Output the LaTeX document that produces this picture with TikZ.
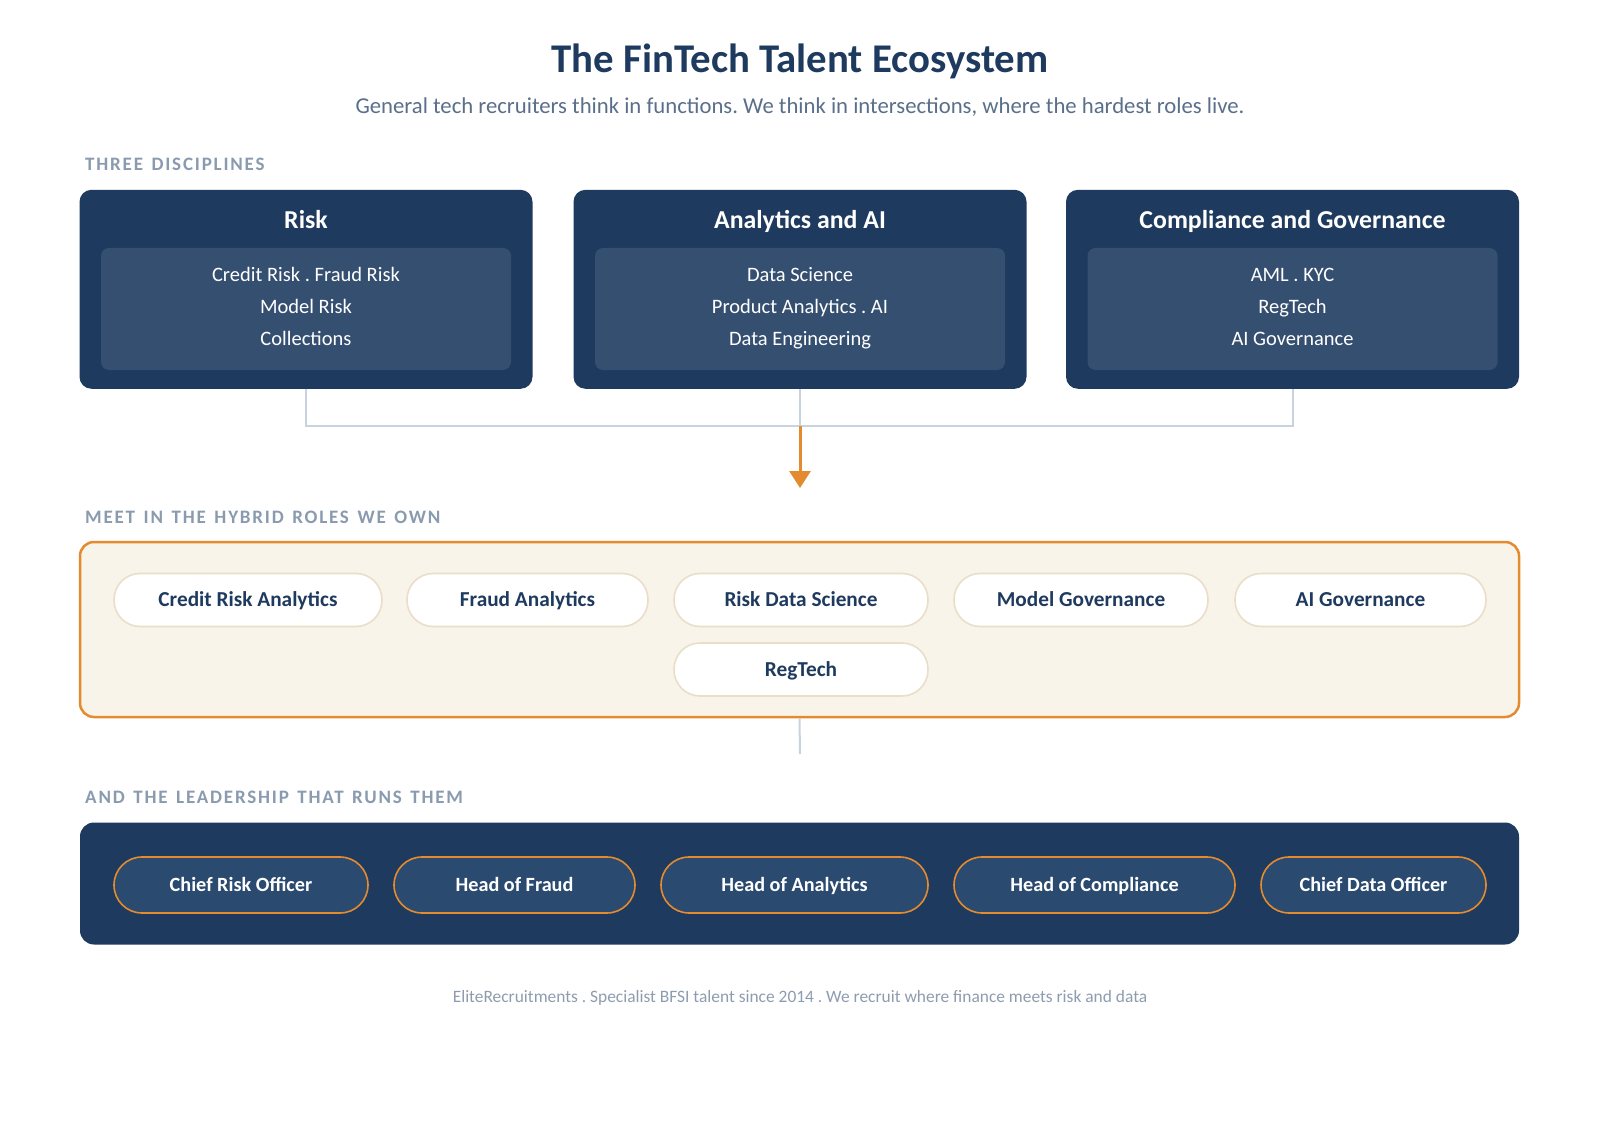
\documentclass[tikz,border=0pt]{standalone}
\usepackage{fontspec}
\setmainfont{Carlito}
\newfontfamily\spaced[LetterSpace=9.5,WordSpace=1.4]{Carlito}
\usetikzlibrary{arrows.meta}
\definecolor{navy}{HTML}{1F3A5F}
\definecolor{innerbox}{HTML}{354F70}
\definecolor{leadpill}{HTML}{2A4A70}
\definecolor{orng}{HTML}{E38B2E}
\definecolor{cream}{HTML}{F9F4EA}
\definecolor{pillborder}{HTML}{E9DEC8}
\definecolor{conn}{HTML}{C9D3E0}
\definecolor{lblgray}{HTML}{8A9BB0}
\definecolor{subgray}{HTML}{5A6F8A}
\definecolor{footgray}{HTML}{8E9CB0}
\frenchspacing
\begin{document}
\begin{tikzpicture}[x=1pt,y=-1pt,
  disc/.style={fill=navy, rounded corners=12pt, minimum width=453pt, minimum height=199pt, inner sep=0pt},
  inner/.style={fill=innerbox, rounded corners=8pt, minimum width=410pt, minimum height=122pt, inner sep=0pt},
  dhead/.style={text=white, inner sep=0pt, text height=16.6pt, text depth=0pt, font=\bfseries\fontsize{25.8}{30}\selectfont},
  dline/.style={text=white, inner sep=0pt, text height=13.2pt, text depth=0pt, font=\fontsize{20.5}{24}\selectfont},
  seclbl/.style={anchor=west, inner sep=0pt, text=lblgray, font=\spaced\bfseries\fontsize{19}{22}\selectfont},
  hpill/.style={draw=pillborder, line width=1.6pt, fill=white, rounded corners=26pt, minimum height=53pt, inner sep=0pt, text height=13.7pt, text depth=0pt, text=navy, font=\bfseries\fontsize{21.3}{25}\selectfont},
  lpill/.style={draw=orng, line width=1.6pt, fill=leadpill, rounded corners=28pt, minimum height=56pt, inner sep=0pt, text height=13pt, text depth=0pt, text=white, font=\bfseries\fontsize{20.2}{24}\selectfont},
  connline/.style={draw=conn, line width=2pt}
]
\useasboundingbox (0,0) rectangle (1600,1147);
\fill[white] (0,0) rectangle (1600,1147);

\node[text=navy, font=\bfseries\fontsize{40.8}{48}\selectfont] (title) at (800,61) {The FinTech Talent Ecosystem};
\node[text=subgray, font=\fontsize{22.7}{27}\selectfont] (sub) at (800,107) {General tech recruiters think in functions. We think in intersections, where the hardest roles live.};

\node[seclbl] (l1) at (85,164) {THREE DISCIPLINES};

% disciplines
\node[disc] (d1) at (306,289.3) {};
\node[disc] (d2) at (800,289.3) {};
\node[disc] (d3) at (1292.5,289.3) {};
\foreach \n/\x/\h/\a/\b/\c in {1/306/Risk/{Credit Risk . Fraud Risk}/{Model Risk}/Collections,
  2/800/Analytics and AI/{Data Science}/{Product Analytics . AI}/{Data Engineering},
  3/1292.5/Compliance and Governance/{AML . KYC}/RegTech/{AI Governance}}{
  \node[dhead] (h\n) at (\x,220.5) {\h};
  \node[inner] (i\n) at (\x,309) {};
  \node[dline] (a\n) at (\x,274.5) {\a};
  \node[dline] (b\n) at (\x,306.5) {\b};
  \node[dline] (c\n) at (\x,338.5) {\c};
}

% connectors
\coordinate (j) at (800,426);
\coordinate (arrowend) at (800,488);
\draw[connline] (d1.south) |- (j) -| (d3.south);
\draw[connline] (d2.south) -- (j);
\draw[draw=orng, line width=3pt, -{Triangle[length=17pt,width=21pt]}] (j) -- (arrowend);

\node[seclbl] (l2) at (85,517) {MEET IN THE HYBRID ROLES WE OWN};

% hybrid box
\node[draw=orng, line width=2.5pt, fill=cream, rounded corners=14pt, minimum width=1439pt, minimum height=175pt, inner sep=0pt] (hyb) at (799.5,629.5) {};
\node[hpill, minimum width=268pt] (p1) at (248,600) {Credit Risk Analytics};
\node[hpill, minimum width=241pt] (p2) at (527.5,600) {Fraud Analytics};
\node[hpill, minimum width=254pt] (p3) at (801,600) {Risk Data Science};
\node[hpill, minimum width=254pt] (p4) at (1081,600) {Model Governance};
\node[hpill, minimum width=251pt] (p5) at (1360.5,600) {AI Governance};
\node[hpill, minimum width=254pt] (p6) at (801,669.5) {RegTech};

\coordinate (hybend) at (800,754);
\draw[connline] (hyb.south) -- (hybend);

\node[seclbl] (l3) at (85,797) {AND THE LEADERSHIP THAT RUNS THEM};

% leadership
\node[fill=navy, rounded corners=14pt, minimum width=1439pt, minimum height=122pt, inner sep=0pt] (lead) at (799.5,883.5) {};
\node[lpill, minimum width=254pt] (q1) at (241,885) {Chief Risk Officer};
\node[lpill, minimum width=241pt] (q2) at (514.5,885) {Head of Fraud};
\node[lpill, minimum width=267pt] (q3) at (794.5,885) {Head of Analytics};
\node[lpill, minimum width=281pt] (q4) at (1094.5,885) {Head of Compliance};
\node[lpill, minimum width=225pt] (q5) at (1373.5,885) {Chief Data Officer};

\node[text=footgray, font=\fontsize{17.4}{21}\selectfont] (foot) at (800,998) {EliteRecruitments . Specialist BFSI talent since 2014 . We recruit where finance meets risk and data};
\end{tikzpicture}
\end{document}
